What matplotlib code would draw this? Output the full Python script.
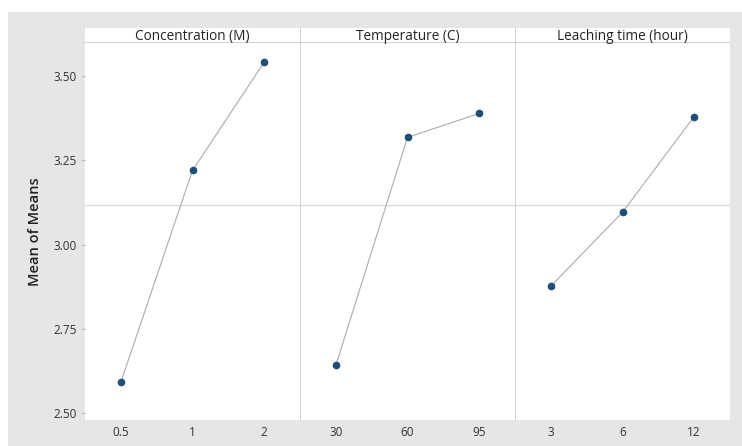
import matplotlib.pyplot as plt
import numpy as np

# factor levels and mean of means
factors = ["Concentration (M)", "Temperature (C)", "Leaching time (hour)"]
conc_levels = ["0.5", "1", "2"]
conc_means = [2.592, 3.220, 3.541]
temp_levels = ["30", "60", "95"]
temp_means = [2.642, 3.318, 3.389]
time_levels = ["3", "6", "12"]
time_means = [2.877, 3.096, 3.380]
grand_mean = 3.118
yticks = [2.50, 2.75, 3.00, 3.25, 3.50]

levels = [conc_levels, temp_levels, time_levels]
means = [conc_means, temp_means, time_means]

plt.rcParams['font.family'] = ['Open Sans', 'DejaVu Sans']

W, H = 742, 446
fig = plt.figure(figsize=(W / 100, H / 100), dpi=100)
fig.patch.set_facecolor("white")
# grey background like minitab
fig.add_artist(plt.Rectangle((8 / W, 0), 1 - 8 / W, 1 - 12 / H, transform=fig.transFigure,
                             facecolor="#e6e6e6", edgecolor="none", zorder=-10))

left, right = 85, 730
top_strip, top_plot, bottom = 28, 43, 420
pw = (right - left) / 3

for i in range(3):
    x0 = (left + i * pw) / W
    ax = fig.add_axes([x0, (H - bottom) / H, pw / W, (bottom - top_plot) / H])
    ax.set_facecolor("white")
    xs = np.arange(len(levels[i]))
    ax.axhline(grand_mean, color="#dcdcdc", lw=1, zorder=1)
    ax.plot(xs, means[i], color="#ababab", lw=0.8, zorder=2)
    ax.plot(xs, means[i], "o", color="#1f4e79", ms=4.5, zorder=3)
    ax.set_xlim(-0.5, 2.5)
    ax.set_ylim(2.48, 3.598)
    ax.set_xticks(xs)
    ax.set_xticklabels(levels[i], fontsize=8.5, color="#333333")
    ax.tick_params(axis="x", length=0, pad=4)
    for s in ax.spines.values():
        s.set_visible(False)
    if i > 0:
        ax.axvline(-0.5, color="#c8c8c8", lw=1.2, zorder=4)
        ax.set_yticks([])
    else:
        ax.set_yticks(yticks)
        ax.set_yticklabels(["%.2f" % v for v in yticks], fontsize=8.5, color="#333333")
        ax.tick_params(axis="y", length=3, color="#bbbbbb", pad=3)
        ax.set_ylabel("Mean of Means", fontsize=10.5, color="#222222", labelpad=8,
                      fontweight="semibold")

    # title strip
    sax = fig.add_axes([x0, (H - top_plot) / H, pw / W, (top_plot - top_strip) / H])
    sax.set_facecolor("white")
    sax.set_xticks([])
    sax.set_yticks([])
    for s in sax.spines.values():
        s.set_visible(False)
    sax.axhline(0, color="#c8c8c8", lw=1.2)
    if i > 0:
        sax.axvline(0, color="#c8c8c8", lw=1.2)
    sax.set_xlim(0, 1)
    sax.set_ylim(0, 1)
    sax.text(0.5, 0.45, factors[i], ha="center", va="center", fontsize=9.8, color="#222222")

fig.savefig("out.png", dpi=100)
